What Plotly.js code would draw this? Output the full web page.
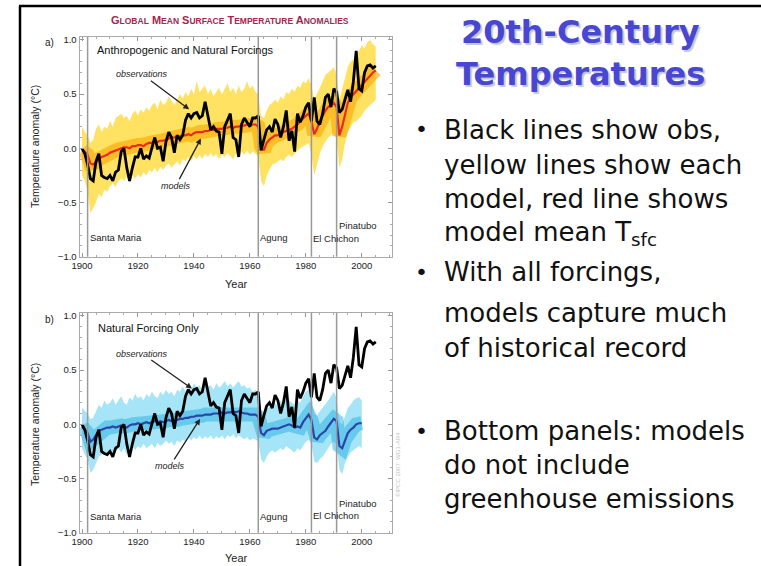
<!DOCTYPE html>
<html>
<head>
<meta charset="utf-8">
<script src="https://cdn.plot.ly/plotly-3.0.1.min.js"></script>
<style>
  html, body { margin: 0; padding: 0; background: #fff; }
  #chart { width: 761px; height: 566px; }
</style>
</head>
<body>
<div id="chart"></div>
<script>
// Annual global mean surface temperature anomalies (°C, relative to 1901-1950)
const firstYear = 1900;
const lastYear = 2005;
const lastNaturalYear = 2000;

// Observed record (black line, both panels)
const obsAnom = [
   0.00, -0.05, -0.15, -0.28, -0.30, -0.12, -0.05, -0.25, -0.27, -0.28,
  -0.25, -0.30, -0.22, -0.20, -0.03,  0.00, -0.18, -0.30, -0.18, -0.08,
  -0.08,  0.00, -0.10, -0.07, -0.09,  0.00,  0.10,  0.00,  0.01, -0.12,
   0.06,  0.15,  0.10, -0.04,  0.12,  0.08,  0.12,  0.26,  0.32,  0.28,
   0.32,  0.33,  0.28,  0.30,  0.43,  0.30,  0.17,  0.20,  0.16,  0.15,
  -0.05,  0.20,  0.27,  0.32,  0.10,  0.08, -0.08,  0.22,  0.28,  0.24,
   0.20,  0.28,  0.28,  0.30, -0.02,  0.08,  0.17,  0.20,  0.15,  0.27,
   0.22,  0.10,  0.20,  0.35,  0.07,  0.16, -0.03,  0.32,  0.24,  0.30,
   0.38,  0.42,  0.25,  0.47,  0.25,  0.22,  0.32,  0.47,  0.50,  0.38,
   0.55,  0.52,  0.33,  0.36,  0.44,  0.54,  0.43,  0.62,  0.90,  0.55,
   0.53,  0.70,  0.76,  0.77,  0.74,  0.76
];

// Anthropogenic + natural forcing runs: ensemble mean and spread envelope
const allMean = [
  -0.02, -0.03, -0.06, -0.14, -0.15, -0.13, -0.10, -0.08, -0.07, -0.06,
  -0.04, -0.03, -0.02, -0.01,  0.00,  0.01,  0.01,  0.00,  0.02,  0.02,
   0.03,  0.03,  0.02,  0.04,  0.05,  0.05,  0.06,  0.06,  0.07,  0.07,
   0.08,  0.09,  0.10,  0.10,  0.11,  0.11,  0.12,  0.12,  0.13,  0.12,
   0.14,  0.15,  0.15,  0.15,  0.16,  0.16,  0.17,  0.17,  0.18,  0.18,
   0.18,  0.19,  0.19,  0.20,  0.19,  0.20,  0.20,  0.21,  0.21,  0.22,
   0.21,  0.22,  0.22,  0.20,  0.02, -0.02,  0.05,  0.08,  0.10,  0.12,
   0.12,  0.13,  0.15,  0.16,  0.17,  0.18,  0.20,  0.22,  0.25,  0.28,
   0.30,  0.32,  0.25,  0.13,  0.18,  0.25,  0.30,  0.35,  0.38,  0.40,
   0.42,  0.38,  0.12,  0.20,  0.32,  0.42,  0.47,  0.50,  0.52,  0.55,
   0.58,  0.62,  0.64,  0.67,  0.70,  0.72
];
const allHigh = [
   0.20,  0.15,  0.12,  0.05,  0.08,  0.18,  0.22,  0.15,  0.20,  0.18,
   0.25,  0.20,  0.28,  0.30,  0.32,  0.28,  0.30,  0.25,  0.32,  0.35,
   0.30,  0.36,  0.33,  0.38,  0.35,  0.40,  0.42,  0.36,  0.45,  0.40,
   0.42,  0.48,  0.44,  0.40,  0.45,  0.50,  0.46,  0.52,  0.48,  0.55,
   0.50,  0.62,  0.52,  0.55,  0.58,  0.50,  0.55,  0.48,  0.52,  0.56,
   0.50,  0.55,  0.60,  0.52,  0.56,  0.50,  0.58,  0.52,  0.55,  0.62,
   0.55,  0.58,  0.52,  0.50,  0.30,  0.28,  0.35,  0.40,  0.42,  0.45,
   0.42,  0.48,  0.45,  0.52,  0.50,  0.55,  0.52,  0.58,  0.56,  0.62,
   0.60,  0.65,  0.58,  0.45,  0.50,  0.56,  0.62,  0.68,  0.70,  0.72,
   0.75,  0.68,  0.45,  0.55,  0.65,  0.75,  0.80,  0.82,  0.88,  0.90,
   0.95,  0.92,  0.98,  1.00,  0.96,  0.94
];
const allLow = [
  -0.25, -0.30, -0.40, -0.60, -0.55, -0.50, -0.42, -0.45, -0.38, -0.40,
  -0.35, -0.32, -0.36, -0.30, -0.28, -0.30, -0.26, -0.32, -0.25, -0.28,
  -0.24, -0.27, -0.22, -0.25, -0.20, -0.22, -0.18, -0.22, -0.17, -0.20,
  -0.16, -0.14, -0.18, -0.15, -0.12, -0.16, -0.10, -0.12, -0.08, -0.12,
  -0.07, -0.10, -0.06, -0.10, -0.05, -0.08, -0.04, -0.08, -0.05, -0.10,
  -0.06, -0.08, -0.04, -0.07, -0.10, -0.05, -0.08, -0.03, -0.06, -0.02,
  -0.06, -0.03, -0.05, -0.08, -0.30, -0.35, -0.25, -0.20, -0.15, -0.14,
  -0.12, -0.10, -0.12, -0.08, -0.06, -0.08, -0.05, -0.02,  0.00,  0.02,
   0.03,  0.05, -0.05, -0.25, -0.15, -0.05,  0.02,  0.06,  0.10,  0.12,
   0.14,  0.08, -0.18, -0.10,  0.05,  0.15,  0.20,  0.24,  0.25,  0.28,
   0.30,  0.35,  0.38,  0.40,  0.42,  0.45
];

// Natural-forcing-only runs (1900-2000): ensemble mean and spread envelope
const natMean = [
  -0.02, -0.05, -0.08, -0.16, -0.14, -0.10, -0.06, -0.05, -0.04, -0.03,
  -0.03, -0.02, -0.03, -0.02, -0.01, -0.02, -0.03, -0.01,  0.00,  0.00,
   0.01,  0.00,  0.01,  0.02,  0.01,  0.02,  0.03,  0.02,  0.03,  0.02,
   0.03,  0.04,  0.03,  0.03,  0.04,  0.05,  0.05,  0.06,  0.06,  0.07,
   0.07,  0.08,  0.08,  0.08,  0.09,  0.09,  0.09,  0.10,  0.10,  0.10,
   0.11,  0.10,  0.11,  0.11,  0.12,  0.11,  0.12,  0.11,  0.10,  0.10,
   0.09,  0.09,  0.09,  0.07, -0.08, -0.10, -0.06, -0.05, -0.04, -0.04,
  -0.04, -0.03, -0.02, -0.01,  0.00, -0.01, -0.03, -0.02, -0.03,  0.02,
   0.06,  0.09,  0.04, -0.12, -0.14, -0.10, -0.08, -0.06, -0.02,  0.02,
   0.05,  0.03, -0.20, -0.22, -0.14, -0.08, -0.05, -0.03,  0.00,  0.01,
   0.01
];
const natHigh = [
   0.15,  0.12,  0.10,  0.05,  0.06,  0.12,  0.18,  0.15,  0.22,  0.18,
   0.20,  0.24,  0.18,  0.22,  0.26,  0.20,  0.18,  0.25,  0.22,  0.28,
   0.24,  0.26,  0.22,  0.28,  0.25,  0.30,  0.26,  0.24,  0.30,  0.27,
   0.32,  0.28,  0.30,  0.26,  0.32,  0.30,  0.35,  0.30,  0.36,  0.32,
   0.38,  0.34,  0.36,  0.32,  0.38,  0.35,  0.36,  0.32,  0.38,  0.34,
   0.36,  0.40,  0.35,  0.38,  0.34,  0.37,  0.40,  0.35,  0.36,  0.33,
   0.34,  0.30,  0.32,  0.28,  0.12,  0.08,  0.14,  0.16,  0.18,  0.20,
   0.16,  0.22,  0.18,  0.24,  0.22,  0.20,  0.18,  0.22,  0.20,  0.26,
   0.30,  0.32,  0.25,  0.10,  0.08,  0.12,  0.15,  0.18,  0.22,  0.26,
   0.30,  0.24,  0.02,  0.00,  0.08,  0.15,  0.18,  0.22,  0.24,  0.25,
   0.22
];
const natLow = [
  -0.22, -0.28, -0.32, -0.45, -0.42, -0.35, -0.30, -0.28, -0.26, -0.30,
  -0.24, -0.28, -0.25, -0.22, -0.26, -0.22, -0.28, -0.22, -0.20, -0.24,
  -0.20, -0.22, -0.18, -0.22, -0.20, -0.18, -0.22, -0.17, -0.20, -0.18,
  -0.15, -0.18, -0.16, -0.20, -0.15, -0.17, -0.14, -0.16, -0.12, -0.15,
  -0.12, -0.14, -0.10, -0.14, -0.11, -0.13, -0.10, -0.14, -0.11, -0.13,
  -0.10, -0.14, -0.10, -0.12, -0.09, -0.13, -0.10, -0.12, -0.14, -0.12,
  -0.15, -0.13, -0.14, -0.16, -0.32, -0.36, -0.30, -0.26, -0.24, -0.26,
  -0.24, -0.22, -0.24, -0.20, -0.22, -0.24, -0.26, -0.22, -0.24, -0.20,
  -0.16, -0.14, -0.18, -0.34, -0.36, -0.32, -0.30, -0.26, -0.22, -0.18,
  -0.16, -0.18, -0.42, -0.46, -0.36, -0.30, -0.26, -0.24, -0.22, -0.20,
  -0.22
];

// Major volcanic eruptions marked on both panels
const volcanoNames = ['Santa Maria', 'Agung', 'El Chichon', 'Pinatubo'];
const volcanoYears = [1902, 1963, 1982, 1991];

const slideTitle = ['20th-Century', 'Temperatures'];
const bulletLines = [
  ['Black lines show obs,', 'yellow lines show each', 'model, red line shows', 'model mean T<sub>sfc</sub>'],
  ['With all forcings,', 'models capture much', 'of historical record'],
  ['Bottom panels: models', 'do not include', 'greenhouse emissions']
];

// ---------------------------------------------------------------------------
const W = 761, H = 566;
const px = x => x / W;
const py = y => 1 - y / H;

const years = [];
for (let y = firstYear; y <= lastYear; y++) years.push(y);
const natYears = years.filter(y => y <= lastNaturalYear);

const chartFont = 'Liberation Sans, Arial, sans-serif';
const slideFont = 'DejaVu Sans, sans-serif';

function panelTraces(xa, ya, x, mean, high, low, bandColor, haloColor, meanColor, meanName) {
  return [
    { x: x, y: low, xaxis: xa, yaxis: ya, type: 'scatter', mode: 'lines',
      line: { width: 0, color: bandColor }, hoverinfo: 'skip', showlegend: false },
    { x: x, y: high, xaxis: xa, yaxis: ya, type: 'scatter', mode: 'lines',
      fill: 'tonexty', fillcolor: bandColor,
      line: { width: 0, color: bandColor }, hoverinfo: 'skip', showlegend: false },
    { x: x, y: mean, xaxis: xa, yaxis: ya, type: 'scatter', mode: 'lines',
      line: { width: 14, color: haloColor }, hoverinfo: 'skip', showlegend: false },
    { x: x, y: mean, xaxis: xa, yaxis: ya, type: 'scatter', mode: 'lines', name: meanName,
      line: { width: 2.2, color: meanColor }, showlegend: false },
    { x: years, y: obsAnom, xaxis: xa, yaxis: ya, type: 'scatter', mode: 'lines', name: 'observations',
      line: { width: 2.8, color: '#000' }, showlegend: false }
  ];
}

const traces = [].concat(
  panelTraces('x', 'y', years, allMean, allHigh, allLow,
              'rgba(255,221,70,0.85)', 'rgba(248,166,0,0.6)', '#ec2a1c', 'models (all forcings)'),
  panelTraces('x2', 'y2', natYears, natMean, natHigh, natLow,
              'rgba(150,224,246,0.85)', 'rgba(40,175,225,0.5)', '#2b45a6', 'models (natural only)')
);

function xAxis(anchor) {
  return {
    domain: [px(79.5), px(392)], range: [1899.1, 2010.8],
    anchor: anchor, tick0: 1900, dtick: 20, ticks: 'inside', ticklen: 4,
    tickcolor: '#999', showline: true, linecolor: '#aaa', linewidth: 1, mirror: 'ticks',
    showgrid: false, zeroline: false,
    minor: { dtick: 5, ticks: 'inside', ticklen: 2, tickcolor: '#aaa' },
    tickfont: { family: chartFont, size: 9.5, color: '#222' }, fixedrange: true
  };
}
function yAxis(domain, anchor) {
  return {
    domain: domain, range: [-1, 1.03], anchor: anchor,
    tick0: 0, dtick: 0.5, tickformat: '.1f', ticks: 'inside', ticklen: 4,
    tickcolor: '#999', showline: true, linecolor: '#aaa', linewidth: 1, mirror: 'ticks',
    showgrid: false, zeroline: false,
    minor: { dtick: 0.1, ticks: 'inside', ticklen: 2, tickcolor: '#aaa' },
    tickfont: { family: chartFont, size: 9.5, color: '#222' }, fixedrange: true
  };
}

const shapes = [];
// slide frame
shapes.push({ type: 'line', xref: 'paper', yref: 'paper', x0: px(19), x1: 1, y0: py(6), y1: py(6),
              line: { color: '#000', width: 2.5 } });
shapes.push({ type: 'line', xref: 'paper', yref: 'paper', x0: px(20), x1: px(20), y0: 0, y1: py(6),
              line: { color: '#000', width: 2.5 } });
// eruption markers
[['x', 'y domain'], ['x2', 'y2 domain']].forEach(([xr, yr]) => {
  volcanoYears.forEach(vy => {
    shapes.push({ type: 'line', xref: xr, yref: yr, x0: vy, x1: vy, y0: 0, y1: 1,
                  line: { color: '#9a9a9a', width: 1.5 }, layer: 'above' });
  });
});

function smallCaps(str, small) {
  return str.split(' ').map(w =>
    w[0] + '<span style="font-size:' + small + 'px">' + w.slice(1).toUpperCase() + '</span>'
  ).join(' ');
}

const annotations = [];
const ann = (o) => annotations.push(Object.assign(
  { showarrow: false, xref: 'paper', yref: 'paper', xanchor: 'center', yanchor: 'middle' }, o));

// figure heading
ann({ x: px(230), y: py(20),
      text: '<b>' + smallCaps('Global Mean Surface Temperature Anomalies', 8.5) + '</b>',
      font: { family: chartFont, size: 11, color: '#a3264f' } });

// panel letters and captions
ann({ x: px(49), y: py(43), text: 'a)', font: { family: chartFont, size: 10, color: '#222' } });
ann({ x: px(49), y: py(319), text: 'b)', font: { family: chartFont, size: 10, color: '#222' } });
ann({ x: px(95), y: py(50), xanchor: 'left',
      text: 'Anthropogenic and Natural Forcings', font: { family: chartFont, size: 11, color: '#111' } });
ann({ x: px(96), y: py(328), xanchor: 'left',
      text: 'Natural Forcing Only', font: { family: chartFont, size: 11, color: '#111' } });

// axis titles
[[147, 284], [425, 558]].forEach(([yc, yy]) => {
  ann({ x: px(35), y: py(yc), textangle: -90,
        text: 'Temperature anomaly (°C)', font: { family: chartFont, size: 10.5, color: '#222' } });
  ann({ x: px(236), y: py(yy),
        text: 'Year', font: { family: chartFont, size: 11, color: '#222' } });
});

// pointer labels
const pointer = (xr, yr, x, y, ax, ay, text) => annotations.push({
  xref: xr, yref: yr, x: x, y: y, ax: ax, ay: ay, text: '<i>' + text + '</i>',
  showarrow: true, arrowhead: 2, arrowsize: 0.9, arrowwidth: 1.3, arrowcolor: '#222',
  font: { family: chartFont, size: 9, color: '#222' } });
pointer('x', 'y', 1938.3, 0.36, -47, -35, 'observations');
pointer('x', 'y', 1942.5, 0.09, -25, 47, 'models');
pointer('x2', 'y2', 1939.3, 0.33, -50, -35, 'observations');
pointer('x2', 'y2', 1942.2, 0.05, -30, 47, 'models');

// eruption names
const volcLabelY = [[-0.82, -0.82, -0.83, -0.71], [-0.85, -0.85, -0.84, -0.73]];
[['x', 'y'], ['x2', 'y2']].forEach(([xr, yr], p) => {
  volcanoNames.forEach((name, i) => {
    ann({ xref: xr, yref: yr, x: volcanoYears[i], y: volcLabelY[p][i], xanchor: 'left',
          text: name, font: { family: chartFont, size: 9.5, color: '#222' } });
  });
});

// small rotated credit line
ann({ x: px(398), y: py(465), textangle: -90,
      text: '©IPCC 2007: WG1-AR4', font: { family: chartFont, size: 6, color: '#c4c4c4' } });

// slide heading
const titleY = [32, 74];
slideTitle.forEach((t, i) => {
  ann({ x: px(580), y: py(titleY[i]), name: 'slide-title',
        text: '<b>' + t + '</b>', font: { family: slideFont, size: 32, color: '#4747d4' } });
});

// bullet points
const lineY = [[130, 165, 199, 233], [272, 313, 348], [431, 465, 499]];
bulletLines.forEach((lines, b) => {
  ann({ x: px(421), y: py(lineY[b][0]), text: '•',
        font: { family: slideFont, size: 22, color: '#111' } });
  lines.forEach((t, i) => {
    ann({ x: px(442), y: py(lineY[b][i]), xanchor: 'left',
          text: t, font: { family: slideFont, size: 26, color: '#111' } });
  });
});

const layout = {
  width: W, height: H,
  margin: { l: 0, r: 0, t: 0, b: 0 },
  paper_bgcolor: '#fff', plot_bgcolor: '#fff',
  showlegend: false,
  xaxis: xAxis('y'),
  yaxis: yAxis([py(256.7), py(36.7)], 'x'),
  xaxis2: xAxis('y2'),
  yaxis2: yAxis([py(532.7), py(312.7)], 'x2'),
  shapes: shapes,
  annotations: annotations
};

Plotly.newPlot('chart', traces, layout, { displayModeBar: false, staticPlot: true }).then(gd => {
  // soft drop shadow under the slide heading
  gd.querySelectorAll('.annotation-text').forEach(node => {
    if (slideTitle.includes(node.textContent)) {
      node.style.textShadow = '2px 2px 1px rgba(150,150,170,0.55)';
    }
  });
});
</script>
</body>
</html>
